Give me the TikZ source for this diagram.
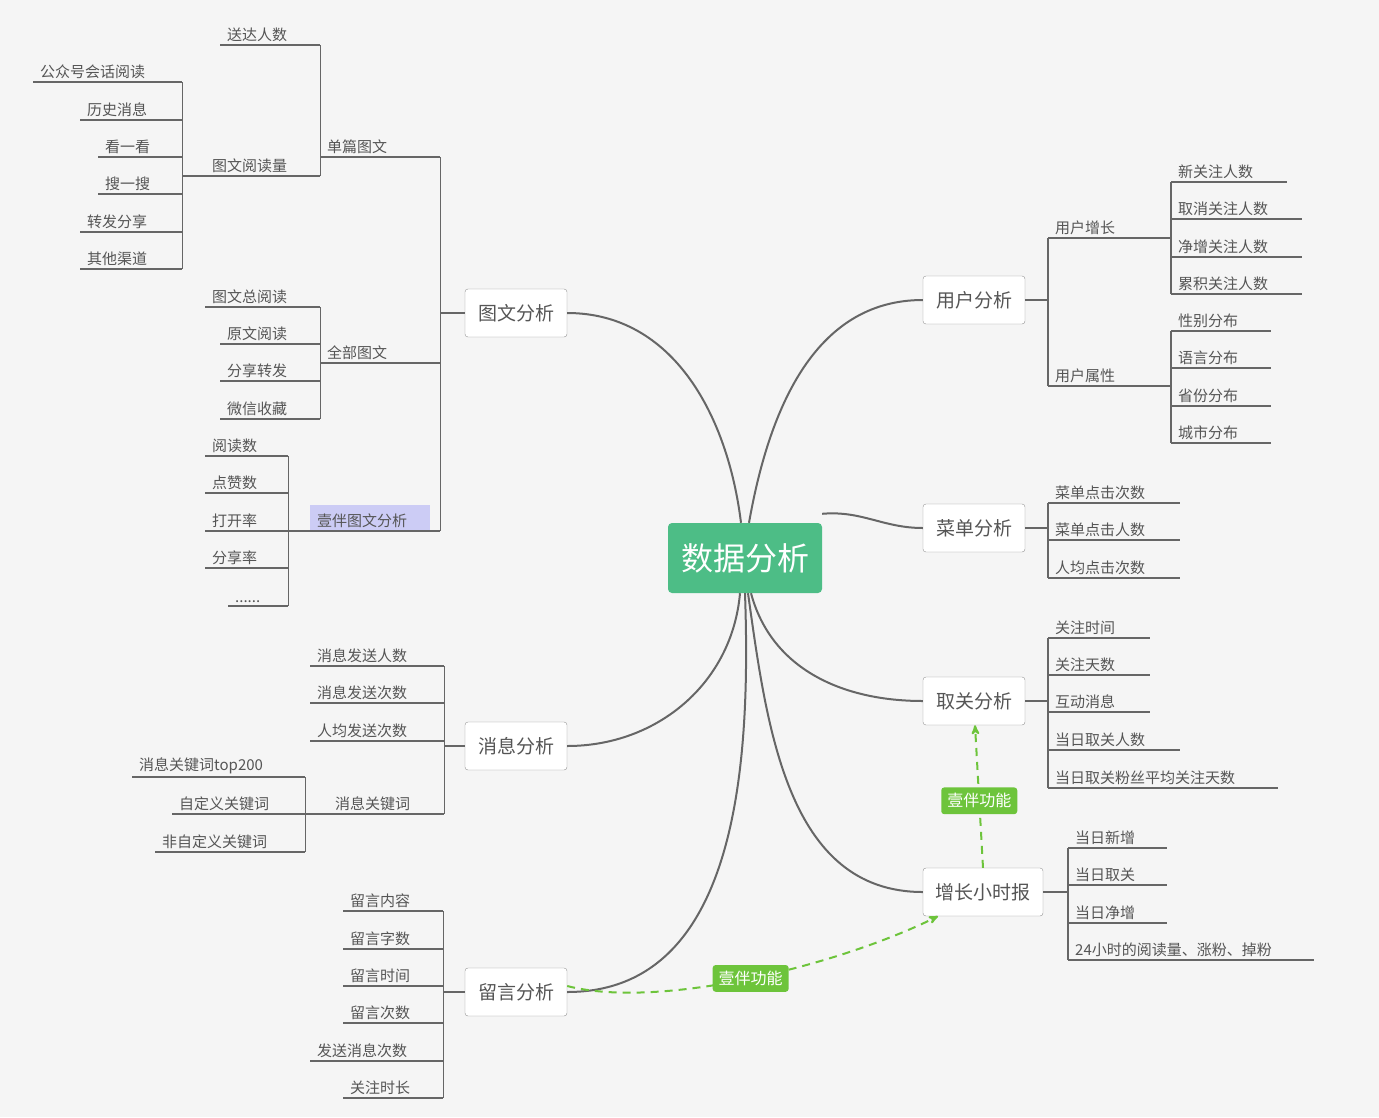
\documentclass[tikz,border=0pt]{standalone}
\usepackage{fontspec}
\setmainfont{Noto Sans CJK SC}
\usetikzlibrary{arrows}
\definecolor{ink}{HTML}{555555}
\definecolor{edge}{HTML}{666666}
\definecolor{mainc}{HTML}{4DBD86}
\definecolor{tagc}{HTML}{6DC43B}
\definecolor{hlc}{HTML}{CCCCF5}
\tikzstyle{leaf} = [inner xsep=7pt, inner ysep=3pt, align=left, text=ink, font=\fontsize{15}{18}\selectfont]
\tikzstyle{box} = [rectangle, rounded corners=3pt, minimum width=102pt, minimum height=48pt, draw=edge!70, fill=white, text=ink, font=\fontsize{19}{22}\selectfont]
\tikzstyle{link} = [edge, line width=1.1pt]
\tikzstyle{branch} = [edge, line width=2pt]
\tikzstyle{tag} = [rectangle, rounded corners=3pt, fill=tagc, text=white, inner sep=6pt, font=\fontsize{16}{19}\selectfont]
\tikzstyle{extra} = [tagc, line width=2pt, dashed, dash pattern=on 8pt off 6pt, ->, >=stealth']
\newcommand\leaf[5]{\pgfmathsetmacro\lw{#3-#2-14}%
  \node[leaf, text width=\lw pt, anchor=south west] (#1) at (#2,#4) {#5};
  \draw[link] (#1.south west) -- (#1.south east);}

\begin{document}
\begin{tikzpicture}[x=1pt, y=-1pt]
\fill[black!4] (0,0) rectangle (1379,1117);
\useasboundingbox (0,0) rectangle (1379,1117);

% Centre
\node (C) [rectangle, rounded corners=4pt, fill=mainc, text=white, minimum width=154pt, minimum height=70pt, font=\fontsize{32}{36}\selectfont] at (745,558) {数据分析};

% Main topics
\node (TW) [box] at (516,313) {图文分析};
\node (XX) [box] at (516,746) {消息分析};
\node (LY) [box] at (516,992) {留言分析};
\node (YH) [box] at (974,300) {用户分析};
\node (CD) [box] at (974,528) {菜单分析};
\node (QG) [box] at (974,701) {取关分析};
\node (ZZ) [box, minimum width=120pt] at (983,892) {增长小时报};

% Branches
\draw [branch] ([xshift=-4]C.north) to[out=97,in=0] (TW.east);
\draw [branch] ([xshift=4]C.north) to[out=80,in=180] (YH.west);
\draw [branch] ([yshift=9]C.north east) to[out=5,in=180] (CD.west);
\draw [branch] ([xshift=-5]C.south) to[out=-95,in=0] (XX.east);
\draw [branch] (C.south) to[out=-88,in=0] (LY.east);
\draw [branch] ([xshift=6]C.south) to[out=-75,in=180] (QG.west);
\draw [branch] ([xshift=3]C.south) to[out=-82,in=180] (ZZ.west);

% 图文分析
\leaf{sd}{220}{320}{45}{送达人数}
\leaf{gz}{33}{182}{82}{公众号会话阅读}
\leaf{ls}{80}{182}{120}{历史消息}
\leaf{kk}{98}{182}{157}{看一看}
\leaf{ss}{98}{182}{194}{搜一搜}
\leaf{zf}{80}{182}{232}{转发分享}
\leaf{qt}{80}{182}{269}{其他渠道}
\leaf{ydl}{205}{320}{176}{图文阅读量}
\leaf{dp}{320}{440}{157}{单篇图文}
\leaf{zyd}{205}{320}{307}{图文总阅读}
\leaf{yw}{220}{320}{344}{原文阅读}
\leaf{fx}{220}{320}{381}{分享转发}
\leaf{sc}{220}{320}{419}{微信收藏}
\leaf{qb}{320}{440}{363}{全部图文}
\leaf{yds}{205}{288}{456}{阅读数}
\leaf{dz}{205}{288}{493}{点赞数}
\leaf{dk}{205}{288}{531}{打开率}
\leaf{fxl}{205}{288}{568}{分享率}
\leaf{dd}{228}{288}{606}{......}
\fill[hlc] (310,505) rectangle (430,530);
\leaf{yb}{310}{440}{531}{壹伴图文分析}
\draw [link] (dk.south east) -- (yb.south west);
\draw [link] (gz.south east) -- (qt.south east);
\draw [link] (ydl.south west) -- (ydl.south west -| gz.south east);
\draw [link] (sd.south east) -- (ydl.south east);
\draw [link] (zyd.south east) -- (sc.south east);
\draw [link] (yds.south east) -- (dd.south east);
\draw [link] (dp.south east) -- (yb.south east);
\draw [link] (TW.west) -- (TW.west -| dp.south east);

% 消息分析
\leaf{fs}{310}{444}{666}{消息发送人数}
\leaf{fc}{310}{444}{703}{消息发送次数}
\leaf{rj}{310}{444}{741}{人均发送次数}
\leaf{gj}{328}{444}{814}{消息关键词}
\leaf{top}{132}{305}{777}{消息关键词top200}
\leaf{zdy}{172}{305}{814}{自定义关键词}
\leaf{fzdy}{155}{305}{852}{非自定义关键词}
\draw [link] (zdy.south east) -- (gj.south west);
\draw [link] (top.south east) -- (fzdy.south east);
\draw [link] (fs.south east) -- (gj.south east);
\draw [link] (XX.west) -- (XX.west -| fs.south east);

% 留言分析
\leaf{nr}{343}{443}{911}{留言内容}
\leaf{zs}{343}{443}{949}{留言字数}
\leaf{sj}{343}{443}{986}{留言时间}
\leaf{cs}{343}{443}{1023}{留言次数}
\leaf{fsx}{310}{443}{1061}{发送消息次数}
\leaf{sc2}{343}{443}{1098}{关注时长}
\draw [link] (nr.south east) -- (sc2.south east);
\draw [link] (LY.west) -- (LY.west -| nr.south east);

% 用户分析
\leaf{zz}{1048}{1171}{238}{用户增长}
\leaf{sx}{1048}{1171}{386}{用户属性}
\leaf{xg}{1171}{1287}{182}{新关注人数}
\leaf{qx}{1171}{1302}{219}{取消关注人数}
\leaf{jz}{1171}{1302}{257}{净增关注人数}
\leaf{lj}{1171}{1302}{294}{累积关注人数}
\leaf{xb}{1171}{1271}{331}{性别分布}
\leaf{yy}{1171}{1271}{368}{语言分布}
\leaf{sf}{1171}{1271}{406}{省份分布}
\leaf{cs3}{1171}{1271}{443}{城市分布}
\draw [link] (xg.south west) -- (lj.south west);
\draw [link] (xb.south west) -- (cs3.south west);
\draw [link] (zz.south west) -- (sx.south west);
\draw [link] (YH.east) -- (YH.east -| zz.south west);

% 菜单分析
\leaf{cd1}{1048}{1180}{503}{菜单点击次数}
\leaf{cd2}{1048}{1180}{540}{菜单点击人数}
\leaf{cd3}{1048}{1180}{578}{人均点击次数}
\draw [link] (cd1.south west) -- (cd3.south west);
\draw [link] (CD.east) -- (CD.east -| cd1.south west);

% 取关分析
\leaf{qg1}{1048}{1150}{638}{关注时间}
\leaf{qg2}{1048}{1150}{675}{关注天数}
\leaf{qg3}{1048}{1150}{712}{互动消息}
\leaf{qg4}{1048}{1180}{750}{当日取关人数}
\leaf{qg5}{1048}{1278}{788}{当日取关粉丝平均关注天数}
\draw [link] (qg1.south west) -- (qg5.south west);
\draw [link] (QG.east) -- (QG.east -| qg1.south west);

% 增长小时报
\leaf{zz1}{1068}{1167}{848}{当日新增}
\leaf{zz2}{1068}{1167}{885}{当日取关}
\leaf{zz3}{1068}{1167}{923}{当日净增}
\leaf{zz4}{1068}{1314}{960}{24小时的阅读量、涨粉、掉粉}
\draw [link] (zz1.south west) -- (zz4.south west);
\draw [link] (ZZ.east) -- (ZZ.east -| zz1.south west);

% 壹伴功能
\draw [extra] (ZZ.north) -- node (T1) [tag, pos=0.47] {壹伴功能} ([xshift=1]QG.south);
\draw [extra] ([yshift=6]LY.east) .. controls (660,1010) and (840,965) .. node (T2) [tag, pos=0.5] {壹伴功能} ([xshift=-45]ZZ.south);
\end{tikzpicture}
\end{document}
